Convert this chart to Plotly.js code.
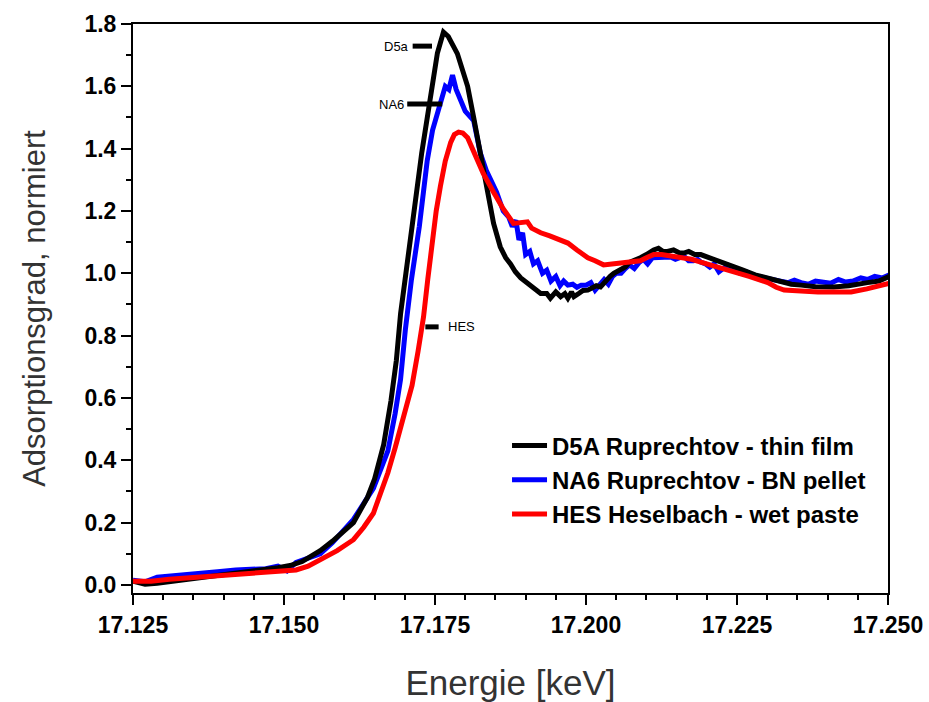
<!DOCTYPE html>
<html>
<head>
<meta charset="utf-8">
<script src="https://cdn.plot.ly/plotly-3.0.1.min.js"></script>
<style>html,body{margin:0;padding:0;background:#fff;}#chart{width:929px;height:702px;}</style>
</head>
<body>
<div id="chart"></div>
<script>
// Energy (keV) and normalised absorption for each sample
const seriesNames = ["D5A Ruprechtov - thin film", "NA6 Ruprechtov - BN pellet", "HES Heselbach - wet paste"];

const d5aEnergy = [
  17.125,17.127,17.129,17.131,17.134,17.137,17.140,17.143,17.146,17.149,
  17.151,17.153,17.156,17.158,17.1615,17.1638,17.165,17.1665,17.1677,17.1686,
  17.1693,17.1701,17.1712,17.1728,17.1742,17.1754,17.1764,17.1772,17.1787,17.1804,
  17.1814,17.1825,17.1837,17.1847,17.1858,17.1867,17.1875,
  17.1883,17.1892,17.1902,17.1913,17.1925,17.1935,17.1941,17.195,17.1958,17.1965,
  17.197,17.1976,17.198,17.1988,17.1995,17.2003,17.201,17.2017,17.2024,17.2032,
  17.204,17.2046,17.2055,17.2065,17.2072,17.2079,17.209,17.21,17.2112,17.212,
  17.2128,17.2135,17.2145,17.2155,17.2162,17.217,17.218,17.219,17.2205,17.2218,
  17.223,17.2245,17.226,17.228,17.2301,17.232,17.234,17.2356,17.238,17.241,
  17.2435,17.2466,17.2485,17.2502
];
const d5aAbs = [
  0.012,0.002,0.005,0.010,0.018,0.022,0.030,0.040,0.045,0.055,
  0.062,0.075,0.110,0.140,0.200,0.280,0.340,0.450,0.590,0.720,
  0.870,0.980,1.150,1.386,1.546,1.707,1.774,1.760,1.705,1.600,
  1.500,1.390,1.280,1.160,1.085,1.050,1.030,
  1.005,0.985,0.970,0.956,0.935,0.935,0.920,0.940,0.925,0.935,
  0.920,0.940,0.925,0.935,0.945,0.946,0.955,0.960,0.956,0.975,
  0.990,1.000,1.010,1.020,1.035,1.040,1.050,1.060,1.075,1.080,
  1.070,1.070,1.075,1.065,1.065,1.070,1.060,1.060,1.050,1.040,
  1.030,1.020,1.010,0.995,0.985,0.975,0.965,0.962,0.957,0.956,
  0.960,0.970,0.975,0.990
];

const na6Energy = [
  17.125,17.127,17.129,17.131,17.133,17.136,17.139,17.142,17.145,17.147,
  17.149,17.1505,17.152,17.154,17.156,17.158,17.1615,17.1648,17.1672,17.1684,
  17.1693,17.1701,17.1711,17.1724,17.1737,17.1746,17.1759,17.1767,17.1773,17.1779,
  17.1785,17.1792,17.180,17.1814,17.1825,17.1835,17.1842,17.1852,17.1863,17.1872,
  17.1878,17.1884,17.1889,17.1895,17.190,17.1907,17.1913,17.192,17.1928,17.1935,
  17.1942,17.195,17.1957,17.1963,17.197,17.1978,17.1985,17.1992,17.200,17.2008,
  17.2015,17.2022,17.203,17.2037,17.2044,17.205,17.2058,17.2065,17.2072,17.208,
  17.2088,17.2095,17.2102,17.211,17.212,17.213,17.214,17.2148,17.2155,17.2162,
  17.217,17.2178,17.2185,17.219,17.2198,17.2205,17.2212,17.222,17.2228,17.2235,
  17.2245,17.2255,17.2265,17.2275,17.2285,17.2295,17.2301,17.231,17.2322,17.2335,
  17.2345,17.2356,17.2368,17.238,17.2392,17.2405,17.2418,17.243,17.2442,17.2455,
  17.2466,17.2478,17.249,17.2502
];
const na6Abs = [
  0.015,0.010,0.025,0.028,0.030,0.035,0.042,0.048,0.050,0.052,
  0.060,0.045,0.072,0.085,0.100,0.135,0.210,0.310,0.430,0.550,
  0.660,0.820,0.980,1.150,1.360,1.460,1.546,1.600,1.590,1.636,
  1.590,1.556,1.520,1.490,1.386,1.330,1.300,1.260,1.200,1.180,
  1.150,1.170,1.107,1.130,1.060,1.070,1.030,1.040,1.000,1.010,
  0.975,0.990,0.960,0.975,0.962,0.965,0.955,0.962,0.962,0.970,
  0.946,0.960,0.980,0.965,0.990,1.000,1.000,1.015,1.027,1.015,
  1.035,1.045,1.030,1.050,1.050,1.048,1.052,1.045,1.050,1.055,
  1.040,1.040,1.045,1.036,1.030,1.020,1.030,1.005,1.017,1.025,
  1.010,1.000,1.005,0.995,0.990,0.985,0.985,0.978,0.975,0.970,
  0.978,0.970,0.965,0.975,0.970,0.968,0.980,0.972,0.975,0.985,
  0.980,0.990,0.985,0.995
];

const hesEnergy = [
  17.125,17.128,17.131,17.134,17.137,17.140,17.143,17.146,17.149,17.152,
  17.154,17.156,17.1588,17.1615,17.1632,17.1648,17.166,17.1672,17.1684,17.1697,
  17.1712,17.1722,17.1731,17.1738,17.1745,17.1752,17.1759,17.1767,17.1776,17.1782,
  17.1789,17.1796,17.1804,17.1814,17.1822,17.183,17.1847,17.1862,17.188,17.1893,
  17.1903,17.191,17.1925,17.194,17.1953,17.197,17.1985,17.2003,17.2015,17.2029,
  17.2043,17.2057,17.2073,17.209,17.21,17.2112,17.2125,17.214,17.2162,17.2175,
  17.219,17.221,17.2225,17.2245,17.227,17.2301,17.2315,17.2328,17.2355,17.2384,
  17.241,17.2439,17.2465,17.2485,17.2502
];
const hesAbs = [
  0.012,0.012,0.018,0.022,0.024,0.030,0.033,0.036,0.040,0.048,
  0.060,0.080,0.110,0.145,0.185,0.230,0.290,0.360,0.440,0.530,
  0.640,0.750,0.860,0.980,1.100,1.200,1.280,1.360,1.420,1.445,
  1.453,1.450,1.435,1.390,1.350,1.320,1.260,1.210,1.160,1.165,
  1.165,1.145,1.130,1.120,1.110,1.097,1.075,1.050,1.040,1.027,
  1.030,1.033,1.035,1.040,1.050,1.060,1.060,1.055,1.050,1.045,
  1.036,1.025,1.015,1.004,0.990,0.970,0.955,0.946,0.942,0.940,
  0.940,0.940,0.950,0.960,0.968
];

// peak tags
const markerLabels = ["D5a", "NA6", "HES"];

const FONT = "Liberation Sans, Arial, sans-serif";

const traces = [
  {x: na6Energy, y: na6Abs, name: seriesNames[1], type: "scatter", mode: "lines",
   line: {color: "#0000ff", width: 5}, legendrank: 2},
  {x: d5aEnergy, y: d5aAbs, name: seriesNames[0], type: "scatter", mode: "lines",
   line: {color: "#000000", width: 5}, legendrank: 1},
  {x: hesEnergy, y: hesAbs, name: seriesNames[2], type: "scatter", mode: "lines",
   line: {color: "#ff0000", width: 5}, legendrank: 3}
];

const tagLine = (x0, x1, y) => ({type: "line", xref: "x", yref: "y", x0: x0, x1: x1, y0: y, y1: y,
  line: {color: "#000", width: 5}});

const layout = {
  width: 929, height: 702,
  margin: {l: 133, r: 41, t: 24, b: 109},
  paper_bgcolor: "#fff", plot_bgcolor: "#fff",
  font: {family: FONT, color: "#000"},
  showlegend: true,
  legend: {x: 0.4954, y: 0.298, xanchor: "left", yanchor: "top", bgcolor: "rgba(0,0,0,0)",
    font: {family: FONT, size: 24, weight: "bold", color: "#000"},
    itemwidth: 35},
  xaxis: {
    range: [17.125, 17.25], dtick: 0.025, tick0: 17.125, tickformat: ".3f",
    ticks: "outside", ticklen: 10, tickwidth: 2, tickcolor: "#000",
    minor: {dtick: 0.005, ticks: "outside", ticklen: 5, tickwidth: 2, tickcolor: "#000", showgrid: false},
    showline: true, linewidth: 2, linecolor: "#000", mirror: true, showgrid: false, zeroline: false,
    tickfont: {family: FONT, size: 23, weight: "bold", color: "#000"},
    title: {text: "Energie [keV]", font: {family: FONT, size: 35, color: "#333"}, standoff: 34}
  },
  yaxis: {
    range: [-0.026, 1.8], dtick: 0.2, tick0: 0, tickformat: ".1f",
    ticks: "outside", ticklen: 10, tickwidth: 2, tickcolor: "#000",
    minor: {dtick: 0.1, ticks: "outside", ticklen: 5, tickwidth: 2, tickcolor: "#000", showgrid: false},
    showline: true, linewidth: 2, linecolor: "#000", mirror: true, showgrid: false, zeroline: false,
    tickfont: {family: FONT, size: 23, weight: "bold", color: "#000"},
    title: {text: "Adsorptionsgrad, normiert", font: {family: FONT, size: 31, color: "#333"}, standoff: 30}
  },
  shapes: [
    tagLine(17.1713, 17.1745, 1.729),
    tagLine(17.1704, 17.1762, 1.543),
    tagLine(17.1734, 17.1756, 0.828)
  ],
  annotations: [
    {x: 17.1711, y: 1.729, xref: "x", yref: "y", text: markerLabels[0], showarrow: false,
     xanchor: "right", font: {family: FONT, size: 13, color: "#000"}},
    {x: 17.1702, y: 1.543, xref: "x", yref: "y", text: markerLabels[1], showarrow: false,
     xanchor: "right", font: {family: FONT, size: 13, color: "#000"}},
    {x: 17.1768, y: 0.828, xref: "x", yref: "y", text: markerLabels[2], showarrow: false,
     xanchor: "left", font: {family: FONT, size: 13, color: "#000"}}
  ]
};

Plotly.newPlot("chart", traces, layout, {displayModeBar: false, staticPlot: true});
</script>
</body>
</html>
